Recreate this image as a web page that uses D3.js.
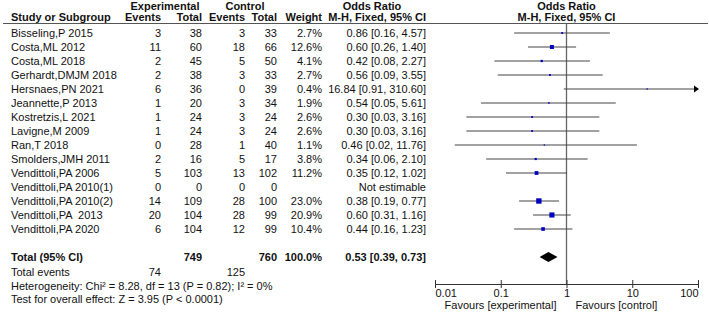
<!DOCTYPE html>
<html>
<head>
<meta charset="utf-8">
<script src="https://cdn.jsdelivr.net/npm/d3@7"></script>
<style>
body { margin: 0; background: #fff; }
text { font-family: "Liberation Sans", Arial, sans-serif; font-size: 11px; fill: #111; white-space: pre; }
.b { font-weight: bold; }
</style>
</head>
<body>
<div id="chart"></div>
<script>
// donnees
var studies = ["Bisseling,P 2015", "Costa,ML 2012", "Costa,ML 2018", "Gerhardt,DMJM 2018",
    "Hersnaes,PN 2021", "Jeannette,P 2013", "Kostretzis,L 2021", "Lavigne,M 2009", "Ran,T 2018",
    "Smolders,JMH 2011", "Vendittoli,PA 2006", "Vendittoli,PA 2010(1)", "Vendittoli,PA 2010(2)",
    "Vendittoli,PA  2013", "Vendittoli,PA 2020"];
var expEvents = [3, 11, 2, 2, 6, 1, 1, 1, 0, 2, 5, 0, 14, 20, 6];
var expTotal = [38, 60, 45, 38, 36, 20, 24, 24, 28, 16, 103, 0, 109, 104, 104];
var ctrlEvents = [3, 18, 5, 3, 0, 3, 3, 3, 1, 5, 13, 0, 28, 28, 12];
var ctrlTotal = [33, 66, 50, 33, 39, 34, 24, 24, 40, 17, 102, 0, 100, 99, 99];
var weights = [2.7, 12.6, 4.1, 2.7, 0.4, 1.9, 2.6, 2.6, 1.1, 3.8, 11.2, null, 23.0, 20.9, 10.4];
var or = [0.86, 0.60, 0.42, 0.56, 16.84, 0.54, 0.30, 0.30, 0.46, 0.34, 0.35, null, 0.38, 0.60, 0.44];
var lower = [0.16, 0.26, 0.08, 0.09, 0.91, 0.05, 0.03, 0.03, 0.02, 0.06, 0.12, null, 0.19, 0.31, 0.16];
var upper = [4.57, 1.40, 2.27, 3.55, 310.60, 5.61, 3.16, 3.16, 11.76, 2.10, 1.02, null, 0.77, 1.16, 1.23];
var total = { exp: 749, ctrl: 760, weight: "100.0%", or: 0.53, lo: 0.39, hi: 0.73 };
var totalEvents = [74, 125];
var axisTicks = [0.01, 0.1, 1, 10, 100];
var axisLabels = ["0.01", "0.1", "1", "10", "100"];

var width = 709, height = 313;

var svg = d3.select("#chart").append("svg")
    .attr("width", width)
    .attr("height", height);

var x = d3.scaleLog().domain([0.01, 100]).range([435, 698]);
var y = d3.scaleLinear().domain([0, 1]).range([33, 47]);
var rowY = function (i) { return y(i); };

// colonnes (bord droit)
var col = { evE: 161, totE: 202, evC: 245, totC: 277, w: 322, or: 426 };

// en-tetes
svg.append("text").attr("x", 165).attr("y", 10).attr("class", "b").attr("text-anchor", "middle").text("Experimental");
svg.append("text").attr("x", 245).attr("y", 10).attr("class", "b").attr("text-anchor", "middle").text("Control");
svg.append("text").attr("x", 372).attr("y", 10).attr("class", "b").attr("text-anchor", "middle").text("Odds Ratio");
svg.append("text").attr("x", x(1)).attr("y", 10).attr("class", "b").attr("text-anchor", "middle").text("Odds Ratio");

svg.append("text").attr("x", 11).attr("y", 21).attr("class", "b").text("Study or Subgroup");
svg.append("text").attr("x", col.evE).attr("y", 21).attr("class", "b").attr("text-anchor", "end").text("Events");
svg.append("text").attr("x", col.totE).attr("y", 21).attr("class", "b").attr("text-anchor", "end").text("Total");
svg.append("text").attr("x", col.evC).attr("y", 21).attr("class", "b").attr("text-anchor", "end").text("Events");
svg.append("text").attr("x", col.totC).attr("y", 21).attr("class", "b").attr("text-anchor", "end").text("Total");
svg.append("text").attr("x", col.w).attr("y", 21).attr("class", "b").attr("text-anchor", "end").text("Weight");
svg.append("text").attr("x", col.or).attr("y", 21).attr("class", "b").attr("text-anchor", "end").text("M-H, Fixed, 95% CI");
svg.append("text").attr("x", x(1)).attr("y", 21).attr("class", "b").attr("text-anchor", "middle").text("M-H, Fixed, 95% CI");

// ligne d'en-tete
svg.append("line").attr("x1", 3).attr("x2", 708).attr("y1", 23.5).attr("y2", 23.5)
    .attr("stroke", "#555").attr("stroke-width", 1);

// ligne verticale a 1
svg.append("line").attr("x1", x(1)).attr("x2", x(1)).attr("y1", 24).attr("y2", 284)
    .attr("stroke", "#666").attr("stroke-width", 1.3);

// lignes des etudes
var rows = svg.selectAll("g.row").data(studies).enter().append("g").attr("class", "row");

rows.append("text").attr("x", 11).attr("y", function (d, i) { return rowY(i) + 4; }).text(function (d) { return d; });
rows.append("text").attr("x", col.evE).attr("y", function (d, i) { return rowY(i) + 4; })
    .attr("text-anchor", "end").text(function (d, i) { return expEvents[i]; });
rows.append("text").attr("x", col.totE).attr("y", function (d, i) { return rowY(i) + 4; })
    .attr("text-anchor", "end").text(function (d, i) { return expTotal[i]; });
rows.append("text").attr("x", col.evC).attr("y", function (d, i) { return rowY(i) + 4; })
    .attr("text-anchor", "end").text(function (d, i) { return ctrlEvents[i]; });
rows.append("text").attr("x", col.totC).attr("y", function (d, i) { return rowY(i) + 4; })
    .attr("text-anchor", "end").text(function (d, i) { return ctrlTotal[i]; });
rows.append("text").attr("x", col.w).attr("y", function (d, i) { return rowY(i) + 4; })
    .attr("text-anchor", "end").text(function (d, i) { return weights[i] == null ? "" : weights[i].toFixed(1) + "%"; });
rows.append("text").attr("x", col.or).attr("y", function (d, i) { return rowY(i) + 4; })
    .attr("text-anchor", "end").text(function (d, i) {
        if (or[i] == null) return "Not estimable";
        return or[i].toFixed(2) + " [" + lower[i].toFixed(2) + ", " + upper[i].toFixed(2) + "]";
    });

// intervalles de confiance
var ci = svg.append("g");
studies.forEach(function (s, i) {
    if (or[i] == null) return;
    var yy = rowY(i);
    var x1 = x(Math.max(lower[i], 0.01)), x2 = x(Math.min(upper[i], 100));
    ci.append("line").attr("x1", x1).attr("x2", x2).attr("y1", yy).attr("y2", yy)
        .attr("stroke", "#444").attr("stroke-width", 1);
    if (upper[i] > 100) {
        ci.append("path").attr("d", "M" + (x2 + 1) + "," + yy + "l-5,-3.5l0,7z").attr("fill", "#000");
    }
    var side = Math.max(1.3, 1.12 * Math.sqrt(weights[i]));
    ci.append("rect").attr("x", x(or[i]) - side / 2).attr("y", yy - side / 2)
        .attr("width", side).attr("height", side).attr("fill", "#0000c0");
});

// total
var ty = 257;
svg.append("text").attr("x", 11).attr("y", ty + 4).attr("class", "b").text("Total (95% CI)");
svg.append("text").attr("x", col.totE).attr("y", ty + 4).attr("class", "b").attr("text-anchor", "end").text(total.exp);
svg.append("text").attr("x", col.totC).attr("y", ty + 4).attr("class", "b").attr("text-anchor", "end").text(total.ctrl);
svg.append("text").attr("x", col.w).attr("y", ty + 4).attr("class", "b").attr("text-anchor", "end").text(total.weight);
svg.append("text").attr("x", col.or).attr("y", ty + 4).attr("class", "b").attr("text-anchor", "end")
    .text(total.or.toFixed(2) + " [" + total.lo.toFixed(2) + ", " + total.hi.toFixed(2) + "]");
svg.append("path")
    .attr("d", "M" + x(total.lo) + "," + ty + "L" + x(total.or) + "," + (ty - 5) + "L" + x(total.hi) + "," + ty + "L" + x(total.or) + "," + (ty + 5) + "Z")
    .attr("fill", "#000");

svg.append("text").attr("x", 11).attr("y", 276).text("Total events");
svg.append("text").attr("x", col.evE).attr("y", 276).attr("text-anchor", "end").text(totalEvents[0]);
svg.append("text").attr("x", col.evC).attr("y", 276).attr("text-anchor", "end").text(totalEvents[1]);
svg.append("text").attr("x", 11).attr("y", 290).text("Heterogeneity: Chi\u00b2 = 8.28, df = 13 (P = 0.82); I\u00b2 = 0%");
svg.append("text").attr("x", 11).attr("y", 303).text("Test for overall effect: Z = 3.95 (P < 0.0001)");

// axe
var axis = svg.append("g").attr("transform", "translate(0,284)")
    .call(d3.axisBottom(x).tickValues(axisTicks).tickSizeOuter(0).tickSizeInner(4)
        .tickFormat(function (d, i) { return axisLabels[i]; }));
axis.select(".domain").attr("stroke", "#333");
axis.selectAll(".tick line").attr("y1", -4).attr("y2", 4).attr("stroke", "#333");
axis.selectAll(".tick text").attr("y", 5).attr("dy", "0.71em")
    .style("font-family", '"Liberation Sans", Arial, sans-serif').style("font-size", "11px").attr("fill", "#111")
    .attr("text-anchor", function (d, i) { return i == 0 ? "start" : (i == axisTicks.length - 1 ? "end" : "middle"); });

svg.append("text").attr("x", x(1) - 10).attr("y", 309).attr("text-anchor", "end").text("Favours [experimental]");
svg.append("text").attr("x", x(1) + 9).attr("y", 309).text("Favours [control]");
</script>
</body>
</html>
